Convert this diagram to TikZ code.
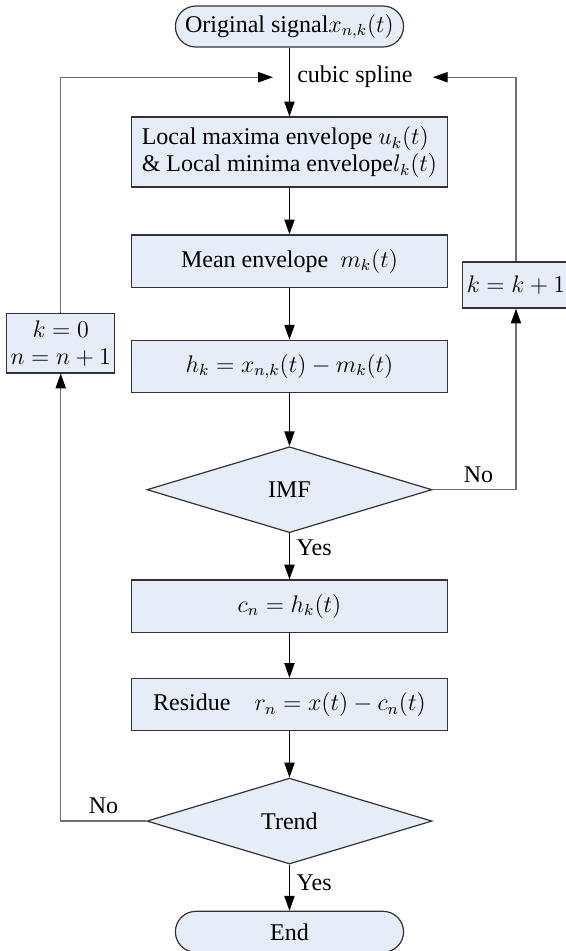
\documentclass[tikz,border=0pt]{standalone}
\usepackage{amsmath}
\usepackage{fontspec}
\setmainfont{Liberation Serif}
\usepackage{tikz}
\usetikzlibrary{positioning,arrows.meta,calc,shapes.geometric}
\definecolor{EMDFill}{HTML}{E6ECF8}
\definecolor{EMDLine}{HTML}{333333}
\definecolor{EMDLoop}{HTML}{6F6F6F}

\begin{document}
\begin{tikzpicture}[
    node distance=8.1mm,
    font=\fontsize{12pt}{13.5pt}\selectfont,
    emdbox/.style={
      draw=EMDLine,
      fill=EMDFill,
      line width=0.6pt,
      minimum width=55.4mm,
      minimum height=9.2mm,
      inner sep=2pt,
      align=center
    },
    emdterm/.style={
      draw=EMDLine,
      fill=EMDFill,
      line width=0.6pt,
      rounded corners=3.6mm,
      minimum width=40.1mm,
      minimum height=7.2mm,
      inner sep=1pt
    },
    emddecision/.style={
      diamond,
      draw=EMDLine,
      fill=EMDFill,
      line width=0.6pt,
      minimum width=50.1mm,
      minimum height=15.1mm,
      inner sep=0pt
    },
    emdarrow/.style={
      -{Triangle[length=2.6mm,width=1.8mm]},
      line width=0.6pt,
      black
    },
    emdloop/.style={
      -{Triangle[length=2.6mm,width=1.8mm,color=black]},
      line width=0.6pt,
      EMDLoop
    },
    emdlabel/.style={text=black}
  ]
  \useasboundingbox (-50.87mm,4.66mm) rectangle (48.59mm,-162.46mm);

  % main column
  \node[emdterm] (start) at (0,0) {Original signal$x_{n,k}(t)$};
  \node[emdbox, align=left, minimum height=12.3mm, below=12.1mm of start] (envelope)
    {Local maxima envelope $u_k(t)$\\\& Local minima envelope$l_k(t)$};
  \node[emdbox, below=8.2mm of envelope] (mean) {Mean envelope\ \ $m_k(t)$};
  \node[emdbox, below=9.1mm of mean] (proto) {$h_k = x_{n,k}(t) - m_k(t)$};
  \node[emddecision, below=9.3mm of proto] (imf) {IMF};
  \node[emdbox, below=of imf] (component) {$c_n = h_k(t)$};
  \node[emdbox, below=7.9mm of component] (residue) {Residue\quad $r_n = x(t) - c_n(t)$};
  \node[emddecision, below=of residue] (trend) {Trend};
  \node[emdterm, below=of trend] (finish) {End};

  % side boxes
  \node[emdbox, minimum width=18.1mm, minimum height=10.5mm] (reset)
    at ($(proto.center)+(-40.2mm,4.1mm)$) {$k = 0$\\$n = n+1$};
  \node[emdbox, minimum width=17.2mm, minimum height=8.1mm] (incr)
    at ($(mean.center)+(39.8mm,-4.2mm)$) {$k = k+1$};

  % spline junction
  \coordinate (splitp) at ($(start.south)!0.43!(envelope.north)$);
  \coordinate (splitL) at ($(splitp)+(-2.9mm,0)$);
  \coordinate (splitR) at ($(splitp)+(25.2mm,0)$);
  \node[anchor=west, inner sep=0pt] (spline) at ($(splitp)+(1.3mm,0)$) {cubic spline};

  % main flow
  \draw[emdarrow] (start) -- (envelope);
  \draw[emdarrow] (envelope) -- (mean);
  \draw[emdarrow] (mean) -- (proto);
  \draw[emdarrow] (proto) -- (imf);
  \draw[emdarrow] (imf) -- node[right, pos=0.32] {Yes} (component);
  \draw[emdarrow] (component) -- (residue);
  \draw[emdarrow] (residue) -- (trend);
  \draw[emdarrow] (trend) -- node[right, pos=0.4] {Yes} (finish);

  % loops back to the spline step
  \draw[emdloop] (imf.east) -- node[emdlabel, above, pos=0.55] {No} (imf.east -| incr.south) -- (incr.south);
  \draw[emdloop] (incr.north) |- (splitR);
  \draw[emdloop] (trend.west) -- node[emdlabel, above] {No} (trend.west -| reset.south) -- (reset.south);
  \draw[emdloop] (reset.north) |- (splitL);

\end{tikzpicture}
\end{document}
